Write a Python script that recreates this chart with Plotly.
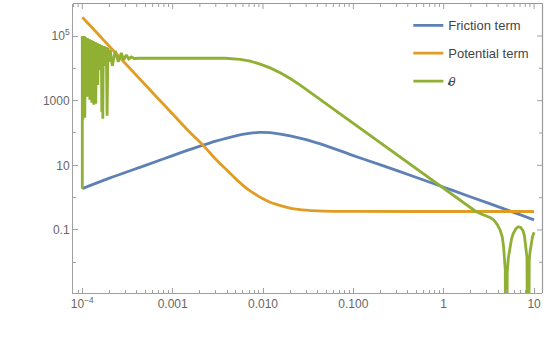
import math
import plotly.graph_objects as go

# Friction term (blue)
friction_x = [1e-4, 2e-4, 5e-4, 1e-3, 2e-3, 3e-3, 5e-3, 7e-3, 9e-3, 0.012, 0.015, 0.02,
              0.03, 0.05, 0.1, 0.2, 0.5, 1, 2, 5, 10]
friction_y = [1.9, 4.0, 10, 20, 39, 56, 82, 97, 104, 102, 94, 81,
              62, 40, 20, 10.3, 4.2, 2.1, 1.05, 0.42, 0.205]

# Potential term (orange)
potential_x = [1e-4, 1.5e-4, 2e-4, 3e-4, 5e-4, 7e-4, 1e-3, 1.5e-3, 2.2e-3, 3e-3, 4e-3,
               5e-3, 6e-3, 7e-3, 8.5e-3, 0.01, 0.012, 0.0143, 0.018, 0.022, 0.03, 0.04,
               0.06, 0.1, 1, 10]
potential_y = [3.8e5, 1.13e5, 4.75e4, 1.41e4, 3040, 1110, 385, 116, 40, 15.5, 7.0,
               3.8, 2.4, 1.7, 1.2, 0.92, 0.72, 0.61, 0.51, 0.45, 0.41, 0.39,
               0.378, 0.374, 0.372, 0.372]

# theta-dot (green): wild oscillation at the start, plateau, power-law fall, two zeros
theta_x = [1.0e-4, 1.0e-4, 1.0128e-4, 1.0258e-4, 1.0390e-4, 1.0523e-4, 1.0658e-4, 1.0795e-4,
           1.0933e-4, 1.1074e-4, 1.1216e-4, 1.1359e-4, 1.1505e-4, 1.1653e-4, 1.1802e-4,
           1.1954e-4, 1.2107e-4, 1.2262e-4, 1.2419e-4, 1.2579e-4, 1.2740e-4, 1.2903e-4,
           1.3069e-4, 1.3236e-4, 1.3406e-4, 1.3578e-4, 1.3752e-4, 1.3928e-4, 1.4107e-4,
           1.4288e-4, 1.4471e-4, 1.4656e-4, 1.4844e-4, 1.5034e-4, 1.5227e-4, 1.5422e-4,
           1.5620e-4, 1.5820e-4, 1.6023e-4, 1.6229e-4, 1.6437e-4, 1.6647e-4, 1.6861e-4,
           1.7077e-4, 1.7296e-4, 1.7518e-4, 1.7971e-4, 1.8434e-4, 1.8814e-4, 1.9202e-4,
           1.9650e-4, 2.039e-4, 2.146e-4, 2.317e-4, 2.501e-4, 2.701e-4, 2.878e-4,
           3.067e-4, 3.269e-4, 3.484e-4, 3.761e-4, 4.164e-4, 1e-3, 2e-3, 3.82e-3,
           5.6e-3, 7.22e-3, 9.3e-3, 0.012, 0.0155, 0.02, 0.0258, 0.04,
           0.0603, 0.1, 0.141, 0.33, 0.5, 0.992, 1.5, 2.0, 2.25, 2.6, 3.0, 3.3, 3.6,
           3.9, 4.21, 4.45, 4.6, 4.69, 4.8, 4.92, 5.05, 5.2, 5.43, 5.65, 5.9, 6.3,
           6.7, 7.1, 7.4, 7.61, 7.85, 8.09, 8.35, 8.6, 8.85, 9.05, 9.26, 9.6, 10]
theta_y = [1.9, 1.0e5, 255, 9.31e4, 4390, 1.0e5, 295, 9.31e4, 1510, 8.67e4, 6250,
           8.67e4, 1310, 8.08e4, 8930, 8.08e4, 1060, 7.53e4, 5060, 7.53e4, 855,
           7.01e4, 7750, 7.01e4, 742, 6.53e4, 1.03e4, 6.53e4, 796, 6.08e4, 1.37e4,
           6.08e4, 3080, 5.66e4, 1.58e4, 5.66e4, 8930, 5.28e4, 1.82e4, 5.28e4, 451,
           4.91e4, 274, 4.58e4, 1.82e4, 4.91e4, 1.19e4, 4.58e4, 340, 4.26e4,
           1.58e4, 3.70e4, 1.19e4, 3.44e4, 1.58e4, 2.99e4, 1.82e4, 2.59e4, 1.95e4,
           2.25e4, 2.02e4, 2.05e4, 2.05e4, 2.05e4, 2.05e4,
           1.90e4, 1.66e4, 1.35e4, 1.03e4, 7310, 4840, 3010, 1250,
           551, 200, 101, 18.4, 7.9, 2.0, 0.88, 0.5, 0.38, 0.31, 0.27, 0.24, 0.2,
           0.15, 0.1, 0.06, 0.03, 0.015, 0.006, 1e-9, 0.005, 0.014, 0.0306, 0.055, 0.079, 0.110,
           0.126, 0.120, 0.104, 0.089, 0.062, 0.0306, 0.014, 1e-9, 0.012, 0.022, 0.034, 0.06, 0.085]

x_major = [1e-4, 1e-3, 1e-2, 1e-1, 1, 10]
x_labels = ["10<sup>\u22124</sup>", "0.001", "0.010", "0.100", "1", "10"]
x_minor = [m * 10.0 ** e for e in range(-5, 1) for m in range(2, 10)]
y_major = [0.1, 10, 1000, 1e5]
y_labels = ["0.1", "10", "1000", "10<sup>5</sup>"]
y_minor = [0.01, 1, 100, 1e4]

X_RANGE = [-4.103, 1.088]
Y_RANGE = [-2.95, 5.99]
PLOT_W, PLOT_H = 469, 289

blue = "#5E81B5"
orange = "#E19C24"
green = "#8FB032"
frame = "#a0a0a0"
label_font = dict(family="Liberation Sans, Arial", size=12, color="#666666")
legend_font = dict(family="Liberation Sans, Arial", size=13, color="#444444")

fig = go.Figure()
fig.add_trace(go.Scatter(x=friction_x, y=friction_y, mode="lines", name="Friction term",
                         line=dict(color=blue, width=2.8, shape="spline"), legendgroup="a"))
fig.add_trace(go.Scatter(x=potential_x, y=potential_y, mode="lines", name="Potential term",
                         line=dict(color=orange, width=2.8, shape="spline"), legendgroup="b"))
fig.add_trace(go.Scatter(x=theta_x, y=theta_y, mode="lines", name="<i>\u03b8</i>",
                         line=dict(color=green, width=2.8), legendgroup="c"))

fig.update_xaxes(type="log", range=X_RANGE, showgrid=False, zeroline=False,
                 showline=True, linecolor=frame, linewidth=1,
                 ticks="inside", ticklen=5, tickcolor=frame,
                 tickmode="array", tickvals=x_major, ticktext=x_labels, tickfont=label_font,
                 minor=dict(tickmode="array", tickvals=x_minor, ticks="inside", ticklen=3,
                            tickcolor=frame, showgrid=False))
fig.update_yaxes(type="log", range=Y_RANGE, showgrid=False, zeroline=False,
                 showline=True, linecolor=frame, linewidth=1,
                 ticks="inside", ticklen=5, tickcolor=frame,
                 tickmode="array", tickvals=y_major, ticktext=y_labels, tickfont=label_font,
                 minor=dict(tickmode="array", tickvals=y_minor, ticks="inside", ticklen=3,
                            tickcolor=frame, showgrid=False))

# top and right frame lines
top = 1 + 0.5 / PLOT_H
right = 1 + 0.5 / PLOT_W
fig.add_shape(type="line", xref="paper", yref="paper", x0=0, x1=right, y0=top, y1=top,
              line=dict(color="#999999", width=1.2), layer="above")
fig.add_shape(type="line", xref="paper", yref="paper", x0=right, x1=right, y0=0, y1=top,
              line=dict(color="#999999", width=1.2), layer="above")

# mirrored ticks on the top and right frame edges
def px_x(v):
    return (math.log10(v) - X_RANGE[0]) / (X_RANGE[1] - X_RANGE[0])

def px_y(v):
    return (math.log10(v) - Y_RANGE[0]) / (Y_RANGE[1] - Y_RANGE[0])

for vals, ln in ((x_major, 5), (x_minor, 3)):
    for v in vals:
        p = px_x(v)
        if 0 <= p <= 1:
            fig.add_shape(type="line", xref="paper", yref="paper", x0=p, x1=p,
                          y0=top, y1=1 - ln / PLOT_H, line=dict(color=frame, width=1))
for vals, ln in ((y_major, 5), (y_minor, 3)):
    for v in vals:
        p = px_y(v)
        fig.add_shape(type="line", xref="paper", yref="paper", x0=right, x1=1 - ln / PLOT_W,
                      y0=p, y1=p, line=dict(color=frame, width=1))

# dot over the theta in the legend
fig.add_annotation(text="<b>\u00b7</b>", xref="paper", yref="paper", x=0.812, y=0.762,
                   showarrow=False, font=dict(family="Liberation Sans, Arial", size=16,
                                              color="#444444"))

fig.update_layout(
    width=548, height=351,
    margin=dict(l=73, r=6, t=4, b=58),
    plot_bgcolor="white", paper_bgcolor="white",
    legend=dict(x=0.715, y=0.978, xanchor="left", yanchor="top", font=legend_font,
                traceorder="grouped", tracegroupgap=8, bgcolor="rgba(255,255,255,0)"),
)

fig.write_html("out.html", config={"displayModeBar": False},
               post_script="document.body.style.margin='0px';")
